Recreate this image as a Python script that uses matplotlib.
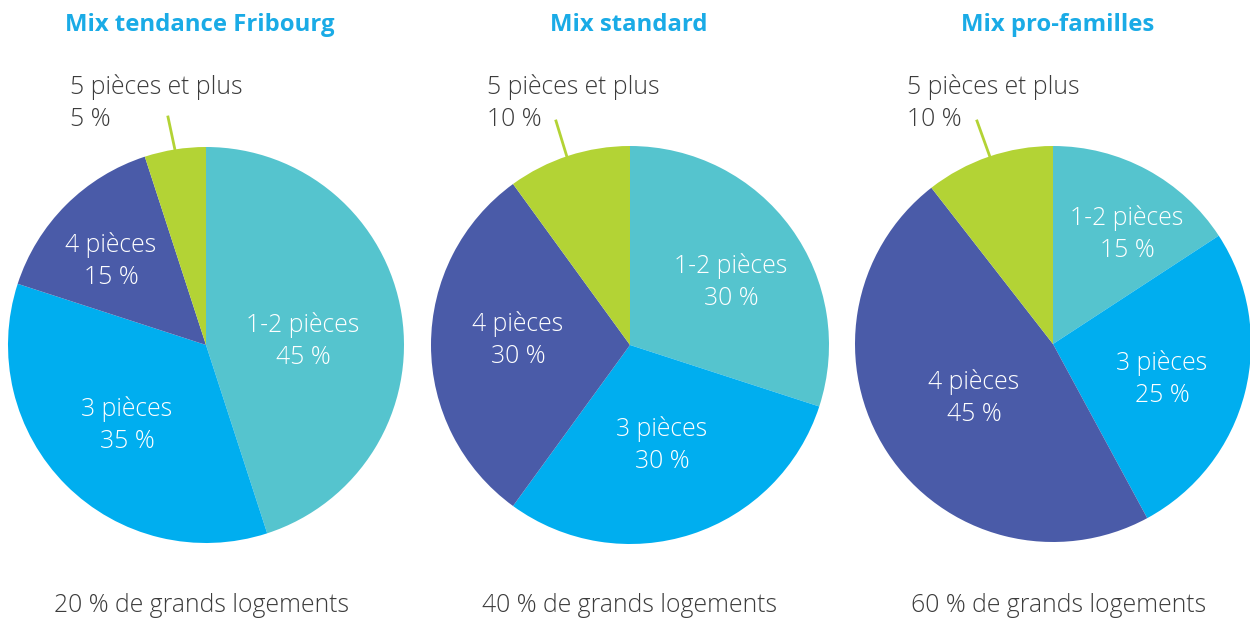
import matplotlib.pyplot as plt

# data
titles = ["Mix tendance Fribourg", "Mix standard", "Mix pro-familles"]
categories = ["1-2 pièces", "3 pièces", "4 pièces", "5 pièces et plus"]
mix_fribourg = [45, 35, 15, 5]
mix_standard = [30, 30, 30, 10]
mix_familles = [15, 25, 45, 10]
footers = ["20 % de grands logements", "40 % de grands logements", "60 % de grands logements"]

colors = ["#55C4CE", "#00AEEF", "#4A5BA8", "#B3D335"]
title_color = "#1AABE6"
text_color = "#3C3C3C"

W, H = 1250, 619
plt.rcParams['font.family'] = ['Open Sans', 'DejaVu Sans']

fig = plt.figure(figsize=(W / 100, H / 100), dpi=100)
ax = fig.add_axes([0, 0, 1, 1])

def Y(py):
    return H - py

# layout in pixels (x, y of centre, radius)
centres = [(206, 345, 198), (630, 345, 199), (1053, 344, 198)]
title_x = [200, 629, 1058]
footer_x = [201, 629, 1059]
# inner label positions (pixels) for 1-2, 3, 4 pieces
inner_pos = [
    [(303, 341), (127, 425), (111, 261)],
    [(731, 282), (662, 445), (518, 340)],
    [(1127, 234), (1162, 379), (974, 398)],
]
outer_x = [70, 487, 907]
leaders = [((168, 117), (175, 150)), ((556, 121), (567, 157)), ((977, 121), (990, 157))]

all_values = [mix_fribourg, mix_standard, mix_familles]
fs = 17.8

for i, vals in enumerate(all_values):
    cx, cy, r = centres[i]
    ax.pie(vals, colors=colors, startangle=90, counterclock=False,
           center=(cx, Y(cy)), radius=r, frame=True,
           wedgeprops=dict(linewidth=0))
    for j in range(3):
        px, py = inner_pos[i][j]
        ax.text(px, Y(py), categories[j] + "\n" + str(vals[j]) + " %",
                ha="center", va="center", color="white", fontsize=fs,
                fontweight="light", linespacing=1.38)
    ax.text(outer_x[i], Y(103), categories[3] + "\n" + str(vals[3]) + " %",
            ha="left", va="center", color=text_color, fontsize=fs,
            fontweight="light", linespacing=1.38)
    (x0, y0), (x1, y1) = leaders[i]
    ax.plot([x0, x1], [Y(y0), Y(y1)], color=colors[3], linewidth=2)
    ax.text(title_x[i], Y(25), titles[i], ha="center", va="center",
            color=title_color, fontsize=17.2, fontweight="bold")
    ax.text(footer_x[i], Y(605), footers[i], ha="center", va="center",
            color=text_color, fontsize=fs, fontweight="light")

ax.set_xlim(0, W)
ax.set_ylim(0, H)
ax.set_aspect("equal")
ax.axis("off")

fig.savefig("out.png", dpi=100)
